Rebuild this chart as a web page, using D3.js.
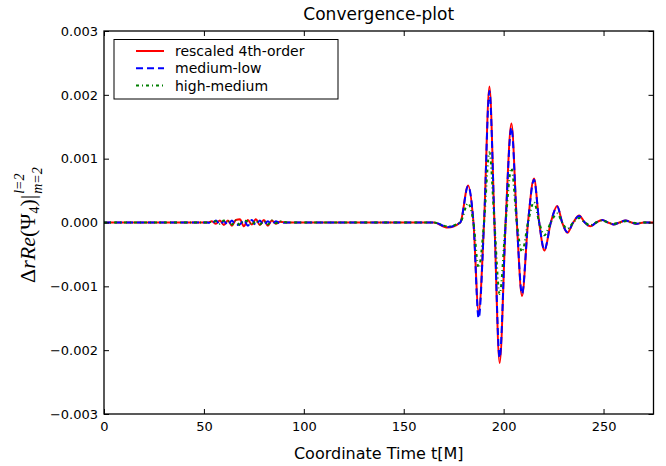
<!DOCTYPE html>
<html>
<head>
<meta charset="utf-8">
<script src="https://cdn.jsdelivr.net/npm/d3@7"></script>
<style>
  body { margin: 0; background: #fff; }
  text { font-family: "DejaVu Sans", sans-serif; }
</style>
</head>
<body>
<svg id="chart" width="666" height="466"></svg>
<script>
// time samples (t[M]) shared by the three curves
var times = [0, 52, 54, 56, 58, 60, 62, 64, 66, 68, 70, 72, 74, 76, 78, 80, 82, 84, 86, 88, 92,
  165, 172, 178.3, 182.2, 184.9, 187.5, 190.2, 192.9, 195.4, 198.0, 201.0, 203.9, 206.6, 209.2,
  212.2, 215.2, 217.8, 220.4, 223.6, 226.8, 229.3, 231.9, 234.8, 237.8, 240.6, 243.4, 246.3,
  249.3, 252.2, 255, 258, 261, 264, 266.8, 270, 275];

// rescaled 4th-order
var rescaled = [0, 0, 0.00002, -0.00002, 0.00003, -0.00004, 0.00003, -0.00005, 0.00004, 0.00005, -0.00006, 0.00004, -0.00003, 0.00005, -0.00004, 0.00004, -0.00005, 0.00003, -0.00002, 0.00001, 0,
  0, -0.00008, 0, 0.00058, 0, -0.00140, 0, 0.00213, 0, -0.00220, 0, 0.00155, 0, -0.00115,
  0, 0.00069, 0, -0.00044, 0, 0.00026, 0, -0.00016, 0, 0.00011, 0, -0.00006, 0,
  0.00004, 0, -0.00003, 0, 0.00003, 0, -0.00002, 0, 0];

// medium-low
var mediumLow = [0, 0, -0.00002, 0.00003, -0.00003, 0.00002, -0.00004, 0.00003, -0.00004, -0.00003, 0.00004, -0.00005, 0.00004, -0.00004, 0.00003, -0.00004, 0.00002, -0.00003, 0.00002, -0.00001, 0,
  0, -0.00007, 0, 0.00057, 0, -0.00150, 0, 0.00206, 0, -0.00212, 0, 0.00149, 0, -0.00112,
  0, 0.00067, 0, -0.00043, 0, 0.00025, 0, -0.00015, 0, 0.00010, 0, -0.00006, 0,
  0.00004, 0, -0.00003, 0, 0.00003, 0, -0.00002, 0, 0];

// high-medium
var highMedium = [0, 0, 0.00001, 0.00002, -0.00002, 0.00003, 0.00002, -0.00003, 0.00003, -0.00004, 0.00003, 0.00002, -0.00004, 0.00003, -0.00003, 0.00002, -0.00003, 0.00003, -0.00001, 0.00002, 0,
  0, -0.00006, 0, 0.00030, 0, -0.00071, 0, 0.00110, 0, -0.00112, 0, 0.00085, 0, -0.00046,
  0, 0.00032, 0, -0.00020, 0, 0.00014, 0, -0.00010, 0, 0.00007, 0, -0.00004, 0,
  0.00003, 0, -0.00002, 0, 0.00002, 0, -0.00001, 0, 0];

var xTicks = [0, 50, 100, 150, 200, 250];
var yTicks = [-0.003, -0.002, -0.001, 0, 0.001, 0.002, 0.003];
var seriesNames = ["rescaled 4th-order", "medium-low", "high-medium"];

// plot box
var boxL = 104, boxR = 653.5, boxT = 31, boxB = 414;

var svg = d3.select("#chart");

var x = d3.scaleLinear().domain([0, 275]).range([boxL, boxR]);
var y = d3.scaleLinear().domain([-0.003, 0.003]).range([boxB, boxT]);

svg.append("clipPath").attr("id", "clip")
  .append("rect").attr("x", boxL).attr("y", boxT)
  .attr("width", boxR - boxL).attr("height", boxB - boxT);

//styles for each line
var styles = [
  { color: "#ff0000", dash: null },
  { color: "#0000ff", dash: "7,4" },
  { color: "#007f00", dash: "3,3,1,3" }
];
var allSeries = [rescaled, mediumLow, highMedium];

var line = d3.line()
  .x(function (d, i) { return x(times[i]); })
  .y(function (d) { return y(d); })
  .curve(d3.curveMonotoneX);

var plot = svg.append("g").attr("clip-path", "url(#clip)");
allSeries.forEach(function (s, k) {
  plot.append("path")
    .attr("d", line(s))
    .attr("fill", "none")
    .attr("stroke", styles[k].color)
    .attr("stroke-width", 2)
    .attr("stroke-dasharray", styles[k].dash);
});

// axes, ticks pointing inwards on all four sides
function fmt(v) { return d3.format(".3f")(v).replace("-", "\u2212"); }

svg.append("g").attr("transform", "translate(0," + boxB + ")")
  .call(d3.axisBottom(x).tickValues(xTicks).tickSizeInner(-5).tickSizeOuter(0).tickPadding(8))
  .call(function (g) { g.select(".domain").remove(); g.selectAll("text").attr("font-size", 13).attr("font-family", "DejaVu Sans"); });
svg.append("g").attr("transform", "translate(0," + boxT + ")")
  .call(d3.axisTop(x).tickValues(xTicks).tickSizeInner(-5).tickSizeOuter(0).tickFormat(""))
  .call(function (g) { g.select(".domain").remove(); });
svg.append("g").attr("transform", "translate(" + boxL + ",0)")
  .call(d3.axisLeft(y).tickValues(yTicks).tickSizeInner(-5).tickSizeOuter(0).tickPadding(6).tickFormat(fmt))
  .call(function (g) { g.select(".domain").remove(); g.selectAll("text").attr("font-size", 13).attr("font-family", "DejaVu Sans"); });
svg.append("g").attr("transform", "translate(" + boxR + ",0)")
  .call(d3.axisRight(y).tickValues(yTicks).tickSizeInner(-5).tickSizeOuter(0).tickFormat(""))
  .call(function (g) { g.select(".domain").remove(); });

svg.append("rect")
  .attr("x", boxL).attr("y", boxT)
  .attr("width", boxR - boxL).attr("height", boxB - boxT)
  .attr("fill", "none").attr("stroke", "#000").attr("stroke-width", 1.3);

// title and axis labels
svg.append("text").attr("x", (boxL + boxR) / 2).attr("y", 20)
  .attr("text-anchor", "middle").attr("font-size", 17).text("Convergence-plot");
svg.append("text").attr("x", (boxL + boxR) / 2).attr("y", 459)
  .attr("text-anchor", "middle").attr("font-size", 16).text("Coordinate Time t[M]");

// y label, math style in a serif face
var serif = "'Liberation Serif', 'DejaVu Serif', serif";
var yl = svg.append("g").attr("transform", "translate(35,283) rotate(-90)");
var ylt = yl.append("text").style("font-family", serif).attr("font-size", 22);
ylt.append("tspan").text("\u0394");
ylt.append("tspan").style("font-style", "italic").text("rRe");
ylt.append("tspan").text("(\u03A8");
ylt.append("tspan").attr("font-size", 14).attr("dy", 4).text("4");
ylt.append("tspan").attr("dy", -4).text(")|");
var w = ylt.node().getComputedTextLength();
yl.append("text").attr("x", w + 1).attr("y", -11).style("font-family", serif)
  .attr("font-size", 14).style("font-style", "italic").text("l=2");
yl.append("text").attr("x", w + 1).attr("y", 7).style("font-family", serif)
  .attr("font-size", 14).style("font-style", "italic").text("m=2");

// legend
var lg = svg.append("g");
lg.append("rect").attr("x", 114).attr("y", 39.5).attr("width", 224).attr("height", 59.5)
  .attr("fill", "#fff").attr("stroke", "#000").attr("stroke-width", 1);
seriesNames.forEach(function (name, k) {
  var yy = 51 + k * 17.3;
  lg.append("line").attr("x1", 136).attr("x2", 164).attr("y1", yy).attr("y2", yy)
    .attr("stroke", styles[k].color).attr("stroke-width", 2)
    .attr("stroke-dasharray", styles[k].dash);
  lg.append("text").attr("x", 175).attr("y", yy + 5).attr("font-size", 14).text(name);
});
</script>
</body>
</html>
